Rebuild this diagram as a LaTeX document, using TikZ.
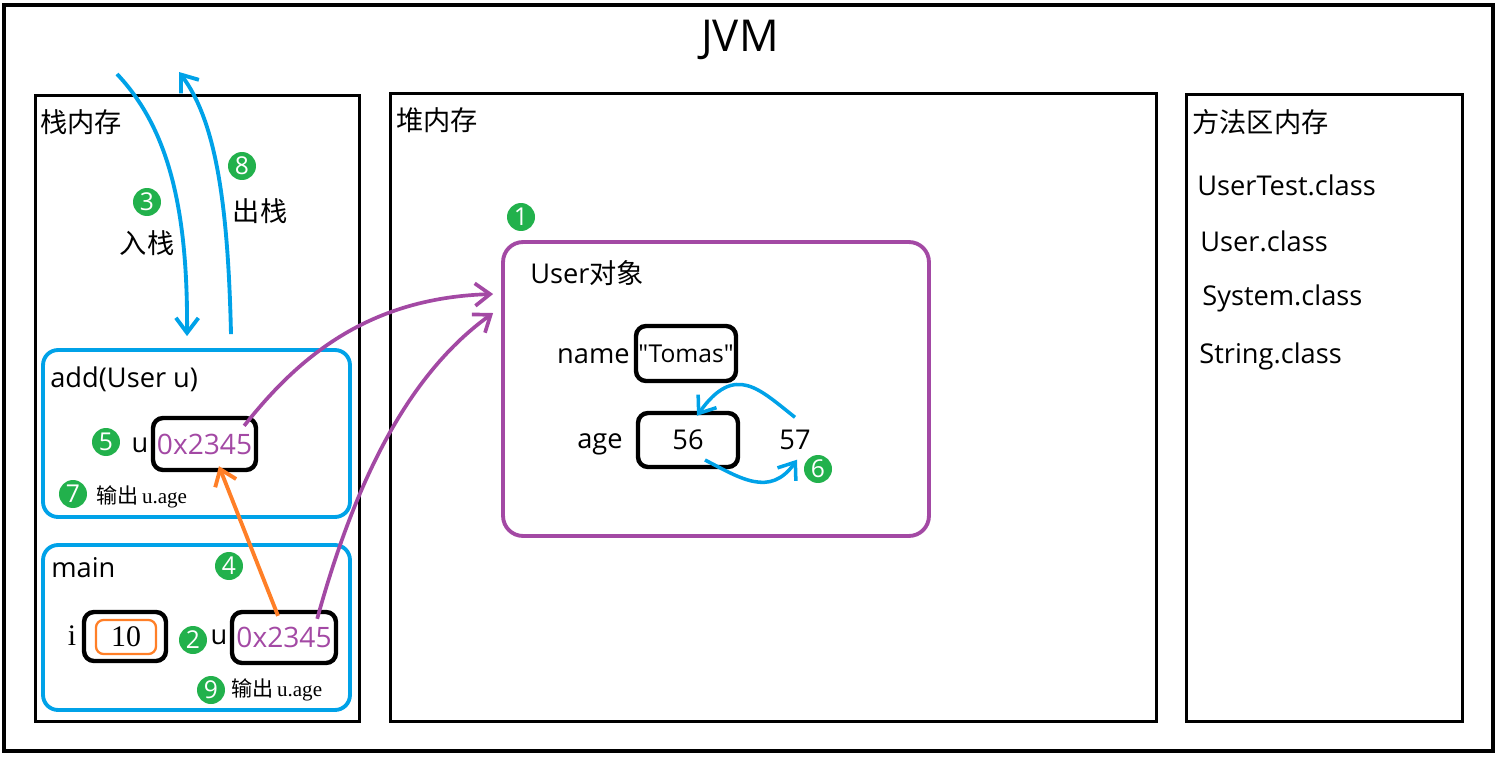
\documentclass[tikz,border=0pt]{standalone}
\usepackage{fontspec}
\setmainfont{Open Sans}
\newfontfamily\rawsans{Open Sans}
\newfontfamily\cjk{Noto Sans CJK SC}
\newfontfamily\tms{Liberation Serif}
\usetikzlibrary{arrows.meta,calc}

\definecolor{paintblue}{HTML}{00A2E8}
\definecolor{paintpurple}{HTML}{A349A4}
\definecolor{paintorange}{HTML}{FF7F27}
\definecolor{paintgreen}{HTML}{22B14C}

\begin{document}
\begin{tikzpicture}[x=0.02cm, y=-0.02cm,
  area/.style = {draw, line width=1.7pt, inner sep=0pt},
  frame/.style = {draw=paintblue, line width=2.2pt, rounded corners=0.3cm, inner sep=0pt},
  cell/.style = {draw, line width=2.5pt, rounded corners=0.2cm, inner sep=0pt},
  badge/.style = {circle, fill=paintgreen, text=white, minimum size=0.56cm, inner sep=0pt,
                  font=\fontsize{14}{14}\selectfont},
  txt/.style = {inner sep=0pt, font=\fontsize{15.5}{18}\selectfont},
  note/.style = {inner sep=0pt, font=\fontsize{12}{14}\selectfont},
  flow/.style = {line width=2.2pt, -{Straight Barb[length=3mm,width=4.5mm]}},
  ]
  \useasboundingbox (0,0) rectangle (1498,757);

  \node[area, line width=2.3pt, minimum width=29.78cm, minimum height=14.92cm] (jvm) at (748.5,378) {};
  \node[inner sep=0pt, font=\fontsize{25}{30}\selectfont] (jvmtitle) at (740,40) {JVM};

  \node[area, minimum width=6.5cm, minimum height=12.54cm] (stack) at (197.5,408.5) {};
  \node[area, minimum width=15.34cm, minimum height=12.58cm] (heap) at (773.5,407.5) {};
  \node[area, minimum width=5.54cm, minimum height=12.56cm] (method) at (1324.5,408) {};

  \node[txt, anchor=west] (stacklabel) at (40,122) {\cjk 栈内存};
  \node[txt, anchor=west] (heaplabel) at (396,120) {\cjk 堆内存};
  \node[txt, anchor=west] (methodlabel) at (1192,122) {\cjk 方法区内存};

  \node[txt, anchor=west] (usertest) at (1197,185) {UserTest.class};
  \node[txt, anchor=west] (userclass) at (1200,241) {User.class};
  \node[txt, anchor=west] (systemclass) at (1202,298) {System.class};
  \node[txt, anchor=west] (stringclass) at (1199,356) {String.class};

  % stack frames
  \node[frame, minimum width=6.14cm, minimum height=3.34cm] (addframe) at (196.5,433.5) {};
  \node[txt, anchor=west] (addlabel) at (50,379) {add(User u)};
  \node[badge] (b5) at (106,442) {5};
  \node[txt] (addvar) at (140,445) {u};
  \node[cell, minimum width=2.06cm, minimum height=1.04cm, text=paintpurple,
        font=\fontsize{16}{18}\selectfont] (addu) at (204.5,444) {0x2345};
  \node[badge] (b7) at (73,494) {7};
  \node[note, anchor=west] (addprint) at (96,497) {{\cjk 输出}\,{\tms u.age}};

  \node[frame, minimum width=6.14cm, minimum height=3.3cm] (mainframe) at (196.5,627.5) {};
  \node[txt, anchor=west] (mainlabel) at (51,568) {main};
  \node[txt, font=\tms\fontsize{17}{18}\selectfont] (ivar) at (72,636) {i};
  \node[cell, minimum width=1.64cm, minimum height=0.98cm] (maini) at (125,636.5) {};
  \node[draw=paintorange, line width=1.3pt, rounded corners=0.15cm, minimum width=1.2cm,
        minimum height=0.68cm, inner sep=0pt, font=\tms\fontsize{17}{18}\selectfont] (ival) at (126,637) {10};
  \node[badge] (b2) at (193,640) {2};
  \node[txt] (mainvar) at (219,637) {u};
  \node[cell, minimum width=2.08cm, minimum height=1.02cm, text=paintpurple,
        font=\fontsize{16}{18}\selectfont] (mainu) at (284,637.5) {0x2345};
  \node[badge] (b9) at (211,690) {9};
  \node[note, anchor=west] (mainprint) at (231,690) {{\cjk 输出}\,{\tms u.age}};
  \node[badge] (b4) at (229,566) {4};

  % push / pop
  \coordinate (pushin) at (117,74);
  \coordinate (popout) at (179,72);
  \node[badge] (b3) at (147,202) {3};
  \node[txt] (pushlabel) at (147,243) {\cjk 入栈};
  \node[badge] (b8) at (242,166) {8};
  \node[txt] (poplabel) at (260,211) {\cjk 出栈};
  \draw[flow, paintblue] (pushin) .. controls (165,125) and (188,200) .. ([xshift=-0.19cm,yshift=0.24cm]addframe.north);
  \draw[flow, paintblue] ([xshift=0.69cm,yshift=0.28cm]addframe.north) .. controls (228,200) and (215,120) .. (popout);

  % heap object
  \node[badge] (b1) at (521,217) {1};
  \node[draw=paintpurple, line width=2.2pt, rounded corners=0.4cm, inner sep=0pt,
        minimum width=8.52cm, minimum height=5.88cm] (userobj) at (716,389) {};
  \node[txt, anchor=west] (objlabel) at (530,273) {User{\cjk 对象}};
  \node[txt, anchor=east] (namelabel) at (630,356) {name};
  \node[cell, minimum width=2cm, minimum height=1.1cm, font=\rawsans\fontsize{14}{16}\selectfont] (namebox) at (686,353.5) {"Tomas"};
  \node[txt] (agelabel) at (600,444) {age};
  \node[cell, minimum width=2cm, minimum height=1.08cm, font=\fontsize{15.5}{18}\selectfont] (agebox) at (688,440) {56};
  \node[txt] (newage) at (795,440) {57};
  \node[badge] (b6) at (818,469) {6};
  \draw[flow, paintblue, line width=2pt] ([yshift=0.25cm]newage.north) .. controls (760,390) and (735,362) .. ([xshift=0.18cm,yshift=-0.1cm]agebox.north);
  \draw[flow, paintblue, line width=2pt] ([xshift=0.34cm,yshift=-0.4cm]agebox.center) .. controls (740,478) and (770,498) .. ([xshift=0.04cm,yshift=-0.19cm]newage.south);

  % references
  \draw[flow, paintpurple, line width=2.1pt] ([xshift=-0.28cm,yshift=-0.2cm]addu.north east) .. controls (300,355) and (370,298) .. ([xshift=-0.16cm,yshift=1.9cm]userobj.west);
  \draw[flow, paintpurple, line width=2.1pt] ([xshift=-0.42cm,yshift=-0.18cm]mainu.north east) .. controls (350,500) and (400,380) .. ([xshift=-0.16cm,yshift=1.52cm]userobj.west);
  \draw[flow, paintorange] ([xshift=-0.12cm,yshift=-0.12cm]mainu.north) -- ([xshift=0.29cm,yshift=0.12cm]addu.south);
\end{tikzpicture}
\end{document}
